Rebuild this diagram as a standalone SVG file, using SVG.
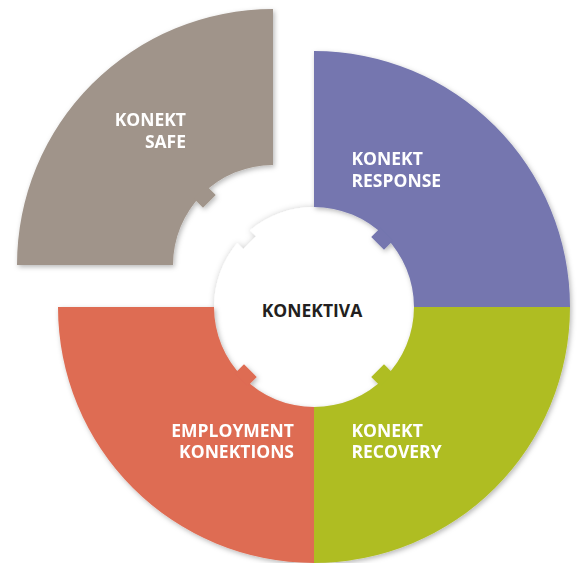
<svg xmlns="http://www.w3.org/2000/svg" width="581" height="563" viewBox="0 0 581 563">
  <defs>
    <filter id="shadow" x="-10%" y="-10%" width="120%" height="120%">
      <feDropShadow dx="1.5" dy="2" stdDeviation="2.5" flood-color="#000" flood-opacity="0.28"/>
    </filter>
    <filter id="glow" x="-10%" y="-10%" width="120%" height="120%">
      <feDropShadow dx="0.5" dy="0.5" stdDeviation="3" flood-color="#000" flood-opacity="0.22"/>
    </filter>
    <rect id="tab" x="90" y="-9" width="13" height="18"/>
  </defs>
  <style>
    .lbl { font-family: "Open Sans", "Liberation Sans", sans-serif; font-weight: 700; font-size: 17.5px; fill: #ffffff; }
    .ctr { font-family: "Open Sans", "Liberation Sans", sans-serif; font-weight: 700; font-size: 17.5px; fill: #231f20; }
    .gray { fill: #a0948a; }
    .purple { fill: #7476af; }
    .green { fill: #afbd23; }
    .red { fill: #de6c53; }
  </style>
  <rect width="581" height="563" fill="#ffffff"/>

  <g id="konektiva">
    <path filter="url(#glow)" fill="#ffffff" transform="translate(314,307)" d="M 64.06,-76.78 L 57.99,-70.71 L 70.71,-57.99 L 76.78,-64.06 A 100 100 0 0 1 76.78,64.06 L 70.71,57.99 L 57.99,70.71 L 64.06,76.78 A 100 100 0 0 1 -64.06,76.78 L -57.99,70.71 L -70.71,57.99 L -76.78,64.06 A 100 100 0 0 1 -76.78,-64.06 L -70.71,-57.99 L -57.99,-70.71 L -64.06,-76.78 A 100 100 0 0 1 64.06,-76.78 Z"/>
    <text class="ctr" x="312" y="316.7" text-anchor="middle">KONEKTIVA</text>
  </g>

  <g filter="url(#shadow)">
    <g id="konekt-response" class="purple">
      <path d="M 314,51 A 256 256 0 0 1 570,307 L 414,307 A 100 100 0 0 0 314,207 Z"/>
      <use href="#tab" transform="translate(314,307) rotate(-45)"/>
    </g>
    <g id="konekt-recovery" class="green">
      <path d="M 570,307 A 256 256 0 0 1 314,563 L 314,407 A 100 100 0 0 0 414,307 Z"/>
      <use href="#tab" transform="translate(314,307) rotate(45)"/>
    </g>
    <g id="employment-konektions" class="red">
      <path d="M 314,563 A 256 256 0 0 1 58,307 L 214,307 A 100 100 0 0 0 314,407 Z"/>
      <use href="#tab" transform="translate(314,307) rotate(135)"/>
    </g>
  </g>

  <g id="konekt-safe" class="gray" filter="url(#shadow)">
    <path d="M 17,265 A 256 256 0 0 1 273,9 L 273,165 A 100 100 0 0 0 173,265 Z"/>
    <use href="#tab" transform="translate(273,265) rotate(225)"/>
  </g>

  <g id="labels">
    <text class="lbl" x="186" y="126" text-anchor="end">KONEKT</text>
    <text class="lbl" x="186" y="147.7" text-anchor="end">SAFE</text>
    <text class="lbl" x="351.5" y="165">KONEKT</text>
    <text class="lbl" x="351.5" y="186.7">RESPONSE</text>
    <text class="lbl" x="351.5" y="436.7">KONEKT</text>
    <text class="lbl" x="351.5" y="458.3">RECOVERY</text>
    <text class="lbl" x="294" y="436.7" text-anchor="end">EMPLOYMENT</text>
    <text class="lbl" x="294" y="458.3" text-anchor="end">KONEKTIONS</text>
  </g>
</svg>
